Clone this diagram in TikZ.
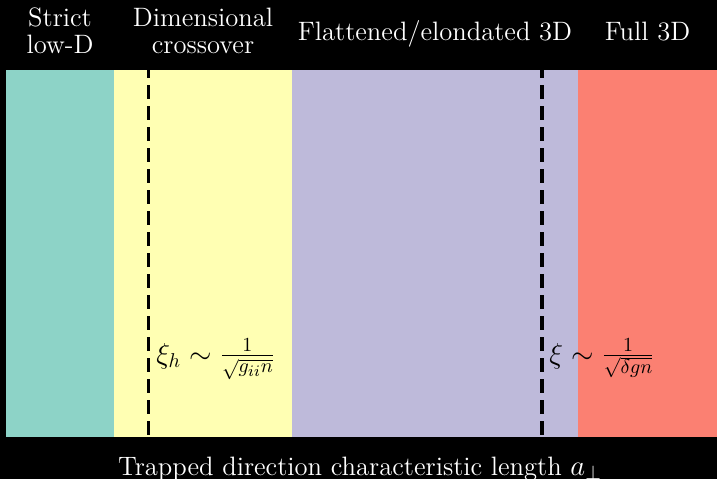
\documentclass[tikz,border=0pt]{standalone}
\DeclareMathSizes{13.3}{13.3}{9.8}{7.6}
\definecolor{cteal}{HTML}{8DD3C7}
\definecolor{cyellow}{HTML}{FFFFB3}
\definecolor{cpurple}{HTML}{BEBADA}
\definecolor{csalmon}{HTML}{FB8072}
\begin{document}
\begin{tikzpicture}[x=0.5pt,y=-0.5pt,
  lbl/.style={text=white,font=\fontsize{13.3}{13.35}\selectfont,align=center,inner sep=0pt},
  mlbl/.style={text=black,font=\fontsize{13.3}{13.35}\selectfont,inner sep=0pt,anchor=base west},
  vline/.style={line width=1.75pt,dash pattern=on 7pt off 3.5pt,dash phase=3pt}]
\fill[black] (0,0) rectangle (717,479);
\useasboundingbox (0,0) rectangle (717,479);
% bands
\fill[cteal] (6,70) rectangle (114,437);
\fill[cyellow] (114,70) rectangle (292,437);
\fill[cpurple] (292,70) rectangle (578,437);
\fill[csalmon] (578,70) rectangle (717,437);
% dashed markers
\coordinate (h1top) at (148.5,70);
\coordinate (h1bot) at (148.5,437);
\coordinate (h2top) at (542,70);
\coordinate (h2bot) at (542,437);
\draw[vline] (h1top) -- (h1bot);
\draw[vline] (h2top) -- (h2bot);
% headings
\node[lbl,anchor=center] (strict) at (60,31) {Strict\\low-D};
\node[lbl,anchor=center] (dim) at (203,31) {Dimensional\\crossover};
\node[lbl,anchor=base] (flat) at (435,40) {Flattened/elondated 3D};
\node[lbl,anchor=base] (full) at (647.5,40) {Full 3D};
% axis label
\node[lbl,anchor=base] (xlabel) at (360,475) {Trapped direction characteristic length $a_\perp$};
% scale labels
\node[mlbl] (xih) at (156,363) {$\xi_h \sim \frac{1}{\sqrt{g_{ii}n}}$};
\node[mlbl] (xi) at (549,363) {$\xi \sim \frac{1}{\sqrt{\delta g n}}$};
\end{tikzpicture}
\end{document}
